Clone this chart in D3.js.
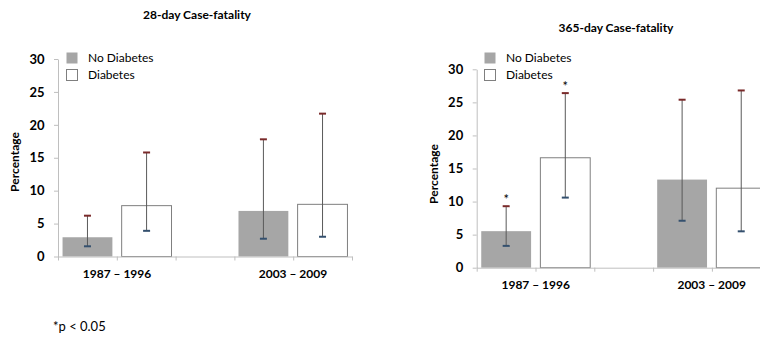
<!DOCTYPE html>
<html>
<head>
<meta charset="utf-8">
<script src="https://cdn.jsdelivr.net/npm/d3@7"></script>
<style>
  body { margin: 0; background: #fff; }
  svg { display: block; font-family: Lato, 'Liberation Sans', sans-serif; }
</style>
</head>
<body>
<svg id="canvas"></svg>
<script>
let periods = ['1987 – 1996', '2003 – 2009']
let groups = ['No Diabetes', 'Diabetes']
let yTicks = [0, 5, 10, 15, 20, 25, 30]

// 28-day case-fatality, percent
let d28NoDiab = [3.0, 7.0]
let d28NoDiabLow = [1.55, 2.7]
let d28NoDiabHigh = [6.2, 17.8]
let d28Diab = [7.8, 8.0]
let d28DiabLow = [3.9, 3.0]
let d28DiabHigh = [15.8, 21.7]
let d28Star = [[false, false], [false, false]]

// 365-day case-fatality, percent
let d365NoDiab = [5.6, 13.4]
let d365NoDiabLow = [3.3, 7.1]
let d365NoDiabHigh = [9.3, 25.4]
let d365Diab = [16.7, 12.1]
let d365DiabLow = [10.6, 5.5]
let d365DiabHigh = [26.4, 26.8]
let d365Star = [[true, true], [false, false]]

let width = 760
let height = 341

let canvas = d3.select('#canvas')
canvas.attr('width', width)
      .attr('height', height)

let colors = { 'No Diabetes': '#a6a6a6', 'Diabetes': '#ffffff' }

let drawPanel = (p) => {
    let rows = []
    periods.forEach((period, i) => {
        rows.push({ period: period, group: groups[0], value: p.noDiab[i], low: p.noDiabLow[i], high: p.noDiabHigh[i], star: p.star[i][0] })
        rows.push({ period: period, group: groups[1], value: p.diab[i], low: p.diabLow[i], high: p.diabHigh[i], star: p.star[i][1] })
    })

    let xScale = d3.scaleBand()
                   .domain(periods)
                   .range([p.left, p.left + 294])
                   .paddingInner(0.375)
                   .paddingOuter(0.023)
    let subScale = d3.scaleBand()
                     .domain(groups)
                     .range([0, xScale.bandwidth()])
                     .paddingInner(0.14)
    let yScale = d3.scaleLinear()
                   .domain([0, 30])
                   .range([p.bottom, p.top])
    let tickScale = d3.scaleLinear()
                      .domain([0, 5])
                      .range([p.left, p.left + 294])

    let g = canvas.append('g')

    // title
    g.append('text')
     .attr('x', p.titleX)
     .attr('y', p.titleY)
     .attr('text-anchor', 'middle')
     .attr('font-size', 12)
     .attr('font-weight', 'bold')
     .text(p.title)

    // bars
    let barX = (d) => xScale(d.period) + subScale(d.group)
    g.selectAll('rect.bar')
     .data(rows)
     .enter()
     .append('rect')
     .attr('class', 'bar')
     .attr('x', (d) => barX(d) + 0.5)
     .attr('y', (d) => yScale(d.value) + 0.5)
     .attr('width', subScale.bandwidth() - 1)
     .attr('height', (d) => yScale(0) - yScale(d.value) - 0.5)
     .attr('fill', (d) => colors[d.group])
     .attr('stroke', (d) => d.group == 'Diabetes' ? '#7f7f7f' : 'none')
     .attr('stroke-width', 1)

    // axes
    let yAxis = d3.axisLeft(yScale)
                  .tickValues(yTicks)
                  .tickSize(4)
                  .tickSizeOuter(0)
    let ya = g.append('g')
              .attr('transform', 'translate(' + p.left + ',0)')
              .call(yAxis)
    ya.selectAll('path, line').attr('stroke', '#bfbfbf')
    ya.selectAll('text')
      .attr('font-size', 13)
      .attr('font-weight', 'bold')
      .attr('font-family', 'Lato, sans-serif')
      .attr('fill', '#000')
      .attr('x', -13.5)

    let xAxis = d3.axisBottom(tickScale)
                  .ticks(5)
                  .tickSize(4)
                  .tickSizeOuter(0)
                  .tickFormat('')
    let xa = g.append('g')
              .attr('transform', 'translate(0,' + p.bottom + ')')
              .call(xAxis)
    xa.selectAll('path, line').attr('stroke', '#bfbfbf')

    // error bars
    let cx = (d) => barX(d) + subScale.bandwidth() / 2
    g.selectAll('line.err')
     .data(rows)
     .enter()
     .append('line')
     .attr('x1', cx).attr('x2', cx)
     .attr('y1', (d) => yScale(d.low))
     .attr('y2', (d) => yScale(d.high))
     .attr('stroke', '#595959')
     .attr('stroke-width', 1)
    g.selectAll('line.capHi')
     .data(rows)
     .enter()
     .append('line')
     .attr('x1', (d) => cx(d) - 3.5).attr('x2', (d) => cx(d) + 3.5)
     .attr('y1', (d) => yScale(d.high)).attr('y2', (d) => yScale(d.high))
     .attr('stroke', '#7a2a2a')
     .attr('stroke-width', 2)
    g.selectAll('line.capLo')
     .data(rows)
     .enter()
     .append('line')
     .attr('x1', (d) => cx(d) - 3.5).attr('x2', (d) => cx(d) + 3.5)
     .attr('y1', (d) => yScale(d.low)).attr('y2', (d) => yScale(d.low))
     .attr('stroke', '#34506e')
     .attr('stroke-width', 2)

    // significance stars
    g.selectAll('text.star')
     .data(rows.filter((d) => d.star))
     .enter()
     .append('text')
     .attr('x', cx)
     .attr('y', (d) => yScale(d.high) - 2)
     .attr('text-anchor', 'middle')
     .attr('font-size', 13)
     .text('*')

    // category labels
    g.selectAll('text.cat')
     .data(periods)
     .enter()
     .append('text')
     .attr('x', (d) => xScale(d) + xScale.bandwidth() / 2)
     .attr('y', p.bottom + 21)
     .attr('text-anchor', 'middle')
     .attr('font-size', 12)
     .attr('font-weight', 'bold')
     .text((d) => d)

    // y label
    g.append('text')
     .attr('transform', 'translate(' + p.ylabX + ',' + p.ylabY + ') rotate(-90)')
     .attr('text-anchor', 'middle')
     .attr('font-size', 12)
     .attr('font-weight', 'bold')
     .text('Percentage')

    // legend
    let leg = g.selectAll('g.leg')
               .data(groups)
               .enter()
               .append('g')
               .attr('transform', (d, i) => 'translate(' + p.legX + ',' + (52 + i * 17) + ')')
    leg.append('rect')
       .attr('x', 0.5).attr('y', 0.5)
       .attr('width', 11).attr('height', 11)
       .attr('fill', (d) => colors[d])
       .attr('stroke', (d) => d == 'Diabetes' ? '#7f7f7f' : 'none')
    leg.append('text')
       .attr('x', 22)
       .attr('y', 10)
       .attr('font-size', 12)
       .text((d) => d)
}

drawPanel({
    title: '28-day Case-fatality', titleX: 197, titleY: 19,
    left: 58, top: 59, bottom: 256.5,
    ylabX: 19, ylabY: 162, legX: 66,
    noDiab: d28NoDiab, noDiabLow: d28NoDiabLow, noDiabHigh: d28NoDiabHigh,
    diab: d28Diab, diabLow: d28DiabLow, diabHigh: d28DiabHigh, star: d28Star
})

drawPanel({
    title: '365-day Case-fatality', titleX: 616, titleY: 32,
    left: 476.7, top: 69.3, bottom: 267.7,
    ylabX: 438, ylabY: 174, legX: 484,
    noDiab: d365NoDiab, noDiabLow: d365NoDiabLow, noDiabHigh: d365NoDiabHigh,
    diab: d365Diab, diabLow: d365DiabLow, diabHigh: d365DiabHigh, star: d365Star
})

canvas.append('text')
      .attr('x', 53)
      .attr('y', 331)
      .attr('font-size', 13)
      .text('*p < 0.05')
</script>
</body>
</html>
